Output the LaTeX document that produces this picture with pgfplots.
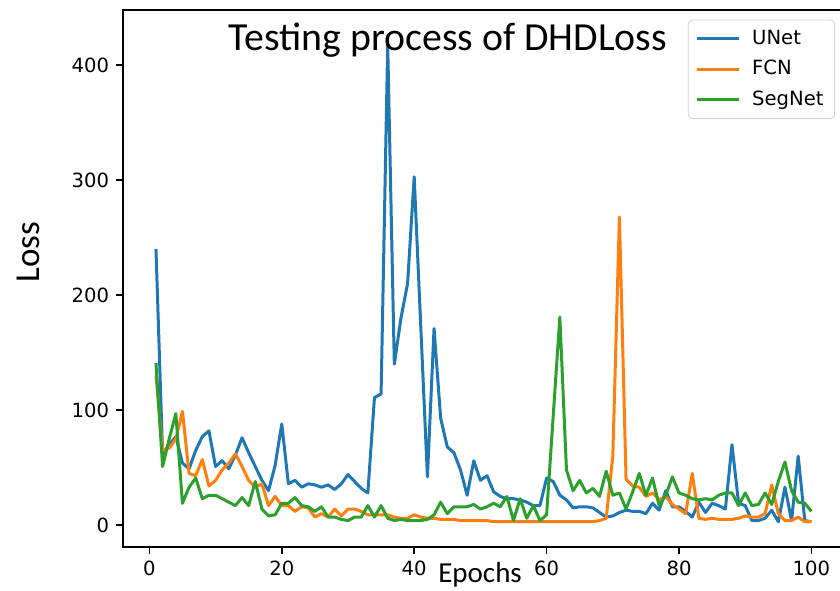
\documentclass[border=0pt]{standalone}
\usepackage{pgfplots}
\pgfplotsset{compat=1.18}
\usepackage{pgfplotstable}
\usepackage{fontspec}
\setmainfont{DejaVu Sans}
\newfontfamily\calibrifont{Carlito}
\definecolor{c1}{HTML}{1F77B4}
\definecolor{c2}{HTML}{FF7F0E}
\definecolor{c3}{HTML}{2CA02C}
\pgfplotstableread{
e u f s
1 240 130 141
2 62 65 51
3 70 67 75
4 77 75 97
5 54 99 19
6 49 45 33
7 65 43 41
8 77 57 23
9 82 34 26
10 51 39 26
11 56 48 23
12 49 54 20
13 61 62 17
14 76 51 24
15 63 39 17
16 51 33 38
17 39 36 14
18 30 17 8
19 52 25 9
20 88 17 19
21 36 17 19
22 39 12 24
23 33 16 17
24 36 15 16
25 35 7 12
26 33 10 16
27 35 7 7
28 31 14 7
29 36 8 5
30 44 14 4
31 38 14 7
32 32 12 7
33 28 9 17
34 111 9 7
35 114 9 17
36 418 9 6
37 140 7 4
38 180 6 5
39 210 6 4
40 303 9 4
41 172 7 4
42 42 6 5
43 171 6 9
44 93 5 20
45 68 5 10
46 63 5 16
47 48 4 16
48 26 4 16
49 56 4 18
50 39 4 14
51 43 4 16
52 29 3 19
53 25 3 16
54 23 3 25
55 23 3 4
56 22 3 23
57 20 3 6
58 17 3 17
59 17 3 4
60 41 3 9
61 38 3 95
62 26 3 181
63 22 3 48
64 15 3 30
65 16 3 39
66 16 3 28
67 15 3 32
68 11 4 25
69 7 6 47
70 8 60 26
71 11 268 28
72 13 40 14
73 12 34 29
74 12 33 45
75 10 25 26
76 19 28 41
77 13 22 17
78 30 25 26
79 16 18 42
80 16 14 28
81 12 10 26
82 7 45 23
83 20 6 22
84 11 5 23
85 19 6 22
86 17 5 26
87 14 5 28
88 70 5 28
89 19 6 17
90 17 8 28
91 4 7 17
92 4 7 18
93 6 10 28
94 13 35 18
95 3 10 38
96 33 4 55
97 4 4 30
98 60 7 20
99 4 3 19
100 3 3 12
}\loss
\begin{document}
\begin{tikzpicture}
\useasboundingbox (0,0) rectangle (420pt,295pt);
\begin{axis}[
  at={(61.6pt,21.5pt)}, anchor=south west,
  scale only axis, width=360.5pt, height=268.5pt,
  xmin=-3.95, xmax=104.95, ymin=-19, ymax=448,
  xtick={0,20,...,100}, ytick={0,100,...,400},
  tick align=outside, major tick length=3.5pt,
  tick style={black, line width=0.8pt},
  axis line style={line width=0.8pt},
  xtick pos=bottom, ytick pos=left,
  tick label style={font=\fontsize{9.8}{11}\selectfont},
  /pgf/number format/assume math mode=true,
  title={Testing process of DHDLoss},
  title style={at={(axis description cs:0.4505,0.903)}, anchor=base, yshift=0pt, font=\calibrifont\fontsize{19.9}{22}\selectfont},
  xlabel={Epochs},
  xlabel style={at={(axis description cs:0.495,0)}, anchor=base, yshift=-17.5pt, font=\calibrifont\fontsize{14.5}{16}\selectfont},
  ylabel={Loss},
  ylabel style={at={(axis description cs:-0.1154,0.549)}, anchor=base, font=\calibrifont\fontsize{17.5}{19}\selectfont},
  legend style={at={(0.9872,0.982)}, anchor=north east, draw=black!18, rounded corners=2pt, fill=white,
    font=\fontsize{9.8}{11}\selectfont, inner xsep=3.5pt, inner ysep=3pt, row sep=2.5pt,
    cells={anchor=west}, /tikz/every odd column/.append style={column sep=4pt}},
  legend image code/.code={\draw[#1] (0pt,0pt) -- (21pt,0pt);},
  every axis plot/.append style={line width=1.5pt, line join=round},
]
\addplot[c1, no marks] table[x=e, y=u] {\loss};
\addplot[c2, no marks] table[x=e, y=f] {\loss};
\addplot[c3, no marks] table[x=e, y=s] {\loss};
\legend{UNet, FCN, SegNet}
\end{axis}
\end{tikzpicture}
\end{document}
